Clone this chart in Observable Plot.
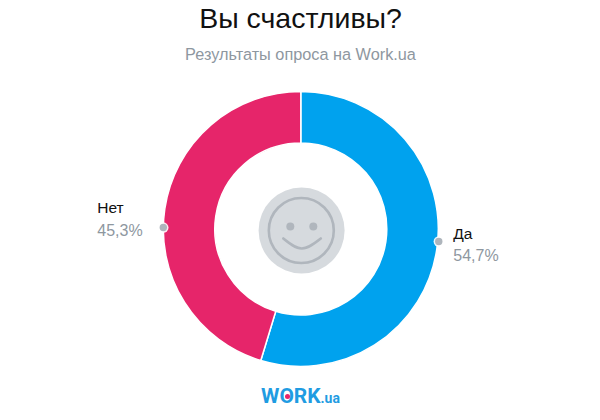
<!DOCTYPE html>
<html lang="ru">
<head>
<meta charset="utf-8">
<script src="https://cdn.jsdelivr.net/npm/d3@7"></script>
<script src="https://cdn.jsdelivr.net/npm/@observablehq/plot@0.6"></script>
<style>
html,body{margin:0;padding:0;background:#fff}
svg{display:block}
</style>
</head>
<body>
<div id="chart"></div>
<script>
const categories = ["Да", "Нет"];
const shares = [54.7, 45.3];
const shareLabels = ["54,7%", "45,3%"];
const sliceColors = ["#00a2ee", "#e6256a"];
const titleText = "Вы счастливы?";
const subtitleText = "Результаты опроса на Work.ua";

const font = "'Liberation Sans', Arial, sans-serif";
const logoFont = "Roboto, sans-serif";
const gray = "#8e979f";
const outerR = 137.5, innerR = 86, markerR = 138;
const markerAngles = {"Да": 95, "Нет": 270.8};

const slices = d3.pie().sort(null)(shares).map((a, i) => ({
  label: categories[i], share: shareLabels[i],
  startAngle: a.startAngle, endAngle: a.endAngle,
  mx: markerR * Math.sin(markerAngles[categories[i]] * Math.PI / 180),
  my: -markerR * Math.cos(markerAngles[categories[i]] * Math.PI / 180)
}));

// donut wedges: one arc per datum, centred through the x/y scales, coloured through the color scale
function arcRender(index, scales, values) {
  const arc = d3.arc();
  const g = d3.create("svg:g");
  for (const i of index) {
    g.append("path")
      .attr("transform", `translate(${values.x[i]},${values.y[i]})`)
      .attr("fill", values.fill[i])
      .attr("stroke", "#fff")
      .attr("stroke-width", 1.5)
      .attr("d", arc({innerRadius: innerR, outerRadius: outerR,
                      startAngle: slices[i].startAngle, endAngle: slices[i].endAngle}));
  }
  return g.node();
}

function sliceText(label, field, dx, dy, fill, fontSize) {
  return Plot.text(slices.filter(d => d.label === label), {
    x: "mx", y: "my", text: field, dx, dy, fill,
    textAnchor: "start", fontSize, fontFamily: font
  });
}

const smileX = [-18, 0.5, 19.5], smileY = [9, 19, 9];
const smile = smileX.map((x, i) => ({x, y: smileY[i]}));

const chart = Plot.plot({
  width: 600, height: 420,
  marginTop: 0, marginRight: 0, marginBottom: 0, marginLeft: 0,
  style: {background: "#fff", fontFamily: font, overflow: "visible"},
  x: {domain: [-300.8, 299.2], range: [0, 600], axis: null},
  y: {domain: [-229, 191], range: [0, 420], axis: null},
  color: {domain: categories, range: sliceColors},
  marks: [
    Plot.text([titleText], {frameAnchor: "top", lineAnchor: "middle", dy: 18, text: d => d, fontSize: 28.5, fill: "#111", fontFamily: font}),
    Plot.text([subtitleText], {frameAnchor: "top", lineAnchor: "middle", dy: 54, text: d => d, fontSize: 16.3, fill: gray, fontFamily: font}),

    Plot.dot(slices, {x: () => 0, y: () => 0, fill: "label", r: outerR, render: arcRender}),

    // smiley
    Plot.dot([0], {x: () => 0.3, y: () => 1, r: 43, fill: "#d6dade"}),
    Plot.dot([0], {x: () => 0, y: () => 1, r: 32.5, stroke: "#b0b6bd", strokeWidth: 2.6, fill: "none"}),
    Plot.dot([-11, 12], {x: d => d, y: () => -3, r: 4, fill: "#b0b6bd"}),
    Plot.line(smile, {x: "x", y: "y", curve: "natural", stroke: "#b0b6bd", strokeWidth: 2.6}),

    // markers
    Plot.dot(slices, {x: "mx", y: "my", r: 5.2, fill: "#fff", fillOpacity: 0.9}),
    Plot.dot(slices, {x: "mx", y: "my", r: 3.7, fill: "#aeb5bc"}),

    // labels
    sliceText("Да", "label", 14.5, -7.5, "#111", 15.5),
    sliceText("Да", "share", 14.5, 14.5, gray, 16),
    sliceText("Нет", "label", -66, -19.5, "#111", 15.5),
    sliceText("Нет", "share", -66, 3.5, gray, 16),

    // logo
    Plot.text(["WORK"], {frameAnchor: "top-left", lineAnchor: "middle", dx: 260.5, dy: 395.5, text: d => d, textAnchor: "start",
      fontSize: 21, fontWeight: "bold", fill: "#1f9ce2", fontFamily: logoFont}),
    Plot.text([".ua"], {frameAnchor: "top-left", lineAnchor: "middle", dx: 320, dy: 398.5, text: d => d, textAnchor: "start",
      fontSize: 14, fontWeight: "bold", fill: "#1f9ce2", fontFamily: logoFont}),
    Plot.dot([0], {x: () => -13.8, y: () => 167, r: 2.5, fill: "#e6256a"})
  ]
});
document.getElementById("chart").append(chart);
</script>
</body>
</html>
